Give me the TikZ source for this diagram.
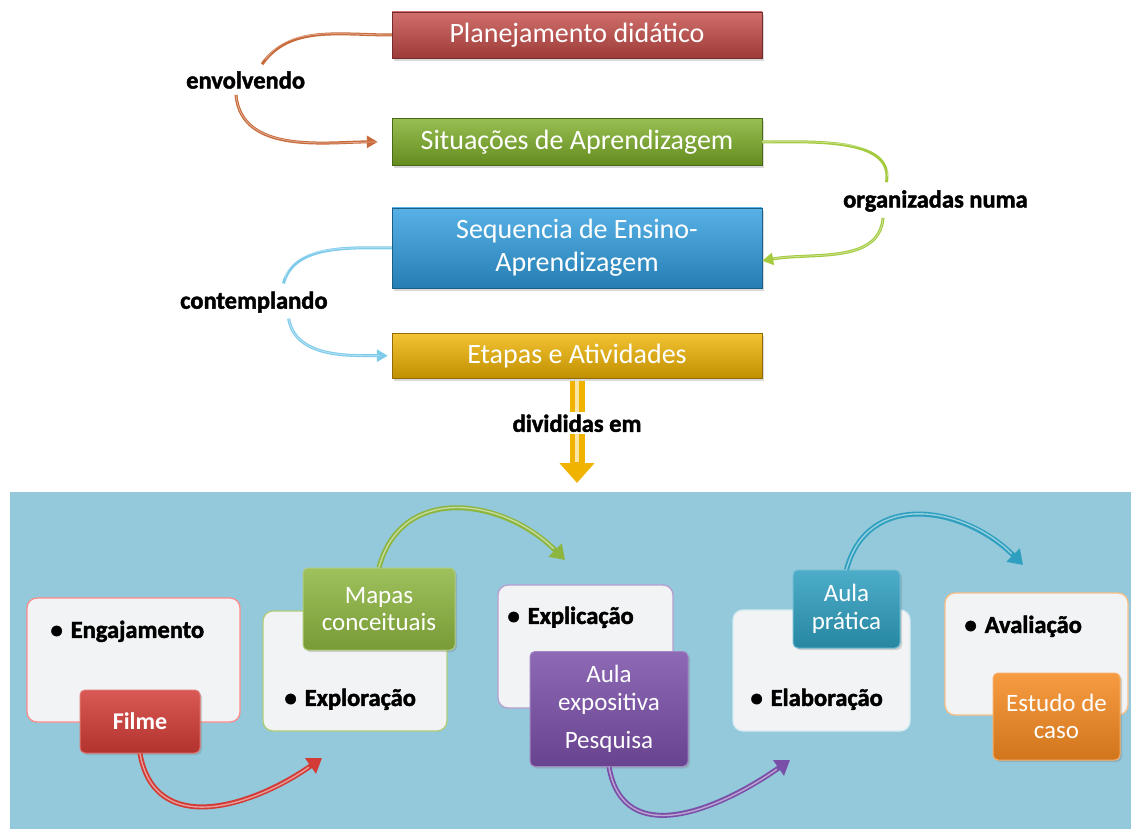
\documentclass[tikz,border=0pt]{standalone}
\usepackage{fontspec}
\setmainfont{Carlito}
\newfontfamily\heavyfont{Carlito}[BoldFeatures={FakeBold=1.8}]
\usetikzlibrary{arrows.meta,positioning,shadows}

\definecolor{planred}{HTML}{C44A46}
\definecolor{sitgreen}{HTML}{7DAE26}
\definecolor{seqblue}{HTML}{2F9EE0}
\definecolor{etagold}{HTML}{F0B400}
\definecolor{panelblue}{HTML}{93C9DB}
\definecolor{boxwhite}{HTML}{F1F3F4}
\definecolor{filmred}{HTML}{D23B36}
\definecolor{mapgreen}{HTML}{8DB640}
\definecolor{expurple}{HTML}{7A4FA8}
\definecolor{practeal}{HTML}{2E9FBF}
\definecolor{estorange}{HTML}{F58A20}
\definecolor{envbrown}{HTML}{C86A3A}
\definecolor{orglime}{HTML}{A4CB40}
\definecolor{consky}{HTML}{7ECBEA}

\begin{document}
\begin{tikzpicture}[x=1pt, y=1pt, >={Triangle[length=11pt,width=12pt]},
  every node/.style={font=\fontsize{28}{33}\selectfont},
  topbox/.style={minimum width=370pt, inner sep=0pt, align=center, text=white,
    draw=#1!60!black, top color=#1!80!white, bottom color=#1!80!black,
    drop shadow={opacity=0.3, shadow xshift=2pt, shadow yshift=-3pt}},
  lbl/.style={font=\fontsize{24.5}{28}\heavyfont\bfseries, inner sep=2pt},
  conn/.style={line width=3pt, draw=#1,
    postaction={draw=white, line width=0.8pt, opacity=0.45, -, shorten >=12pt}},
  ybar/.style={line width=15pt, draw=etagold},
  wbox/.style={draw=#1, fill=boxwhite, line width=1.3pt, rounded corners=10pt, inner sep=0pt},
  abox/.style={draw=#1!70!white, line width=1pt, top color=#1!85!white, bottom color=#1!85!black,
    rounded corners=5pt, inner sep=0pt, align=center, text=white,
    font=\fontsize{25}{27.5}\selectfont,
    drop shadow={opacity=0.3, shadow xshift=2pt, shadow yshift=-2pt}},
  bul/.style={font=\fontsize{24.5}{28}\heavyfont\bfseries, anchor=west, inner sep=0pt},
  tube/.style={line width=5pt, draw=#1, looseness=1.2, -{Triangle[length=14pt,width=18pt]},
    postaction={draw=white, line width=1.4pt, opacity=0.5, -, shorten >=16pt}}]
\useasboundingbox (0,0) rectangle (1131,-829);

% background panel of the stages
\node[fill=panelblue, inner sep=0pt, minimum width=1121pt, minimum height=337pt, anchor=north west] (panel) at (10,-492) {};

% top chain
\node[topbox=planred, minimum height=46pt] (plan) at (577,-35) {Planejamento didático};
\node[topbox=sitgreen, minimum height=47pt, below=60pt of plan] (sit) {Situações de Aprendizagem};
\node[topbox=seqblue, minimum height=80pt, below=42pt of sit] (seq) {Sequencia de Ensino-\\Aprendizagem};
\node[topbox=etagold, minimum height=45pt, below=45pt of seq] (etapa) {Etapas e Atividades};

\node[lbl, anchor=west] (lEnv) at (184,-80) {envolvendo};
\node[lbl, anchor=west] (lOrg) at (841,-201) {organizadas numa};
\node[lbl, anchor=west] (lCon) at (178,-302) {contemplando};
\node[lbl, below=34pt of etapa] (lDiv) {divididas em};

\draw[conn=envbrown, shorten >=6pt] (plan.west) to[out=180, in=55] ([xshift=13pt]lEnv.north);
\draw[conn=envbrown, ->, shorten <=4pt, shorten >=14pt] ([xshift=-10pt]lEnv.south) to[out=-85, in=180] (sit.west);
\draw[conn=orglime, shorten >=6pt] (sit.east) to[out=0, in=80] ([xshift=-50pt]lOrg.north);
\draw[conn=orglime, ->, shorten <=4pt] ([xshift=-52pt]lOrg.south) to[out=-95, in=10] ([yshift=-13pt]seq.east);
\draw[conn=consky, shorten >=6pt] (seq.west) to[out=180, in=75] ([xshift=28pt]lCon.north);
\draw[conn=consky, ->, shorten <=4pt, shorten >=4pt] ([xshift=34pt]lCon.south) to[out=-80, in=180] (etapa.west);

% divided into
\draw[ybar, shorten <=3pt] (etapa.south) -- (lDiv.north);
\draw[line width=4pt, draw=etagold!35!white, shorten <=3pt] (etapa.south) -- (lDiv.north);
\draw[ybar, -{Triangle[length=20pt,width=34pt]}, shorten >=9pt] (lDiv.south) -- (lDiv.south |- panel.north);
\draw[line width=4pt, draw=etagold!35!white, shorten >=30pt] (lDiv.south) -- (lDiv.south |- panel.north);

% stage boxes
\node[wbox=red!45!white, minimum width=213pt, minimum height=124pt] (eng) at (133.5,-660) {};
\node[bul] (engtxt) at ([xshift=24pt, yshift=-34pt]eng.north west) {\textbullet\hspace{8pt}Engajamento};
\node[wbox=mapgreen!70!white, minimum width=184pt, minimum height=120pt] (explo) at (355,-671) {};
\node[bul] (explotxt) at ([xshift=22pt, yshift=-89pt]explo.north west) {\textbullet\hspace{8pt}Exploração};
\node[wbox=expurple!55!white, minimum width=175pt, minimum height=123pt] (expli) at (585.5,-646.5) {};
\node[bul] (explitxt) at ([xshift=10pt, yshift=-33pt]expli.north west) {\textbullet\hspace{8pt}Explicação};
\node[wbox=white!80!practeal, minimum width=177pt, minimum height=121pt] (elab) at (821.5,-670.5) {};
\node[bul] (elabtxt) at ([xshift=18pt, yshift=-90pt]elab.north west) {\textbullet\hspace{8pt}Elaboração};
\node[wbox=estorange!55!white, minimum width=183pt, minimum height=122pt] (aval) at (1036.5,-654) {};
\node[bul] (avaltxt) at ([xshift=20pt, yshift=-34pt]aval.north west) {\textbullet\hspace{8pt}Avaliação};

% activity boxes
\node[abox=filmred, minimum width=120pt, minimum height=63pt, font=\fontsize{24}{27}\selectfont\bfseries] (filme) at (140,-721.5) {Filme};
\node[abox=mapgreen, minimum width=152pt, minimum height=82pt] (mapas) at (379,-609) {Mapas\\conceituais};
\node[abox=expurple, minimum width=158pt, minimum height=115pt] (aulaexp) at (609,-709) {Aula\\expositiva\\[11pt]Pesquisa};
\node[abox=practeal, minimum width=107pt, minimum height=78pt] (pratica) at (846.5,-609) {Aula\\prática};
\node[abox=estorange, minimum width=127pt, minimum height=87pt] (estudo) at (1056.5,-716.5) {Estudo de\\caso};

% curved arrows between stages
\coordinate (tFil) at (322,-758);
\coordinate (tMap) at (565,-560);
\coordinate (tExp) at (790,-760);
\coordinate (tPra) at (1023,-565);
\draw[tube=filmred] (filme.south) to[out=-80, in=215] (tFil);
\draw[tube=mapgreen] (mapas.north) to[out=75, in=135] (tMap);
\draw[tube=expurple] (aulaexp.south) to[out=-80, in=215] (tExp);
\draw[tube=practeal] (pratica.north) to[out=75, in=135] (tPra);
\end{tikzpicture}
\end{document}
